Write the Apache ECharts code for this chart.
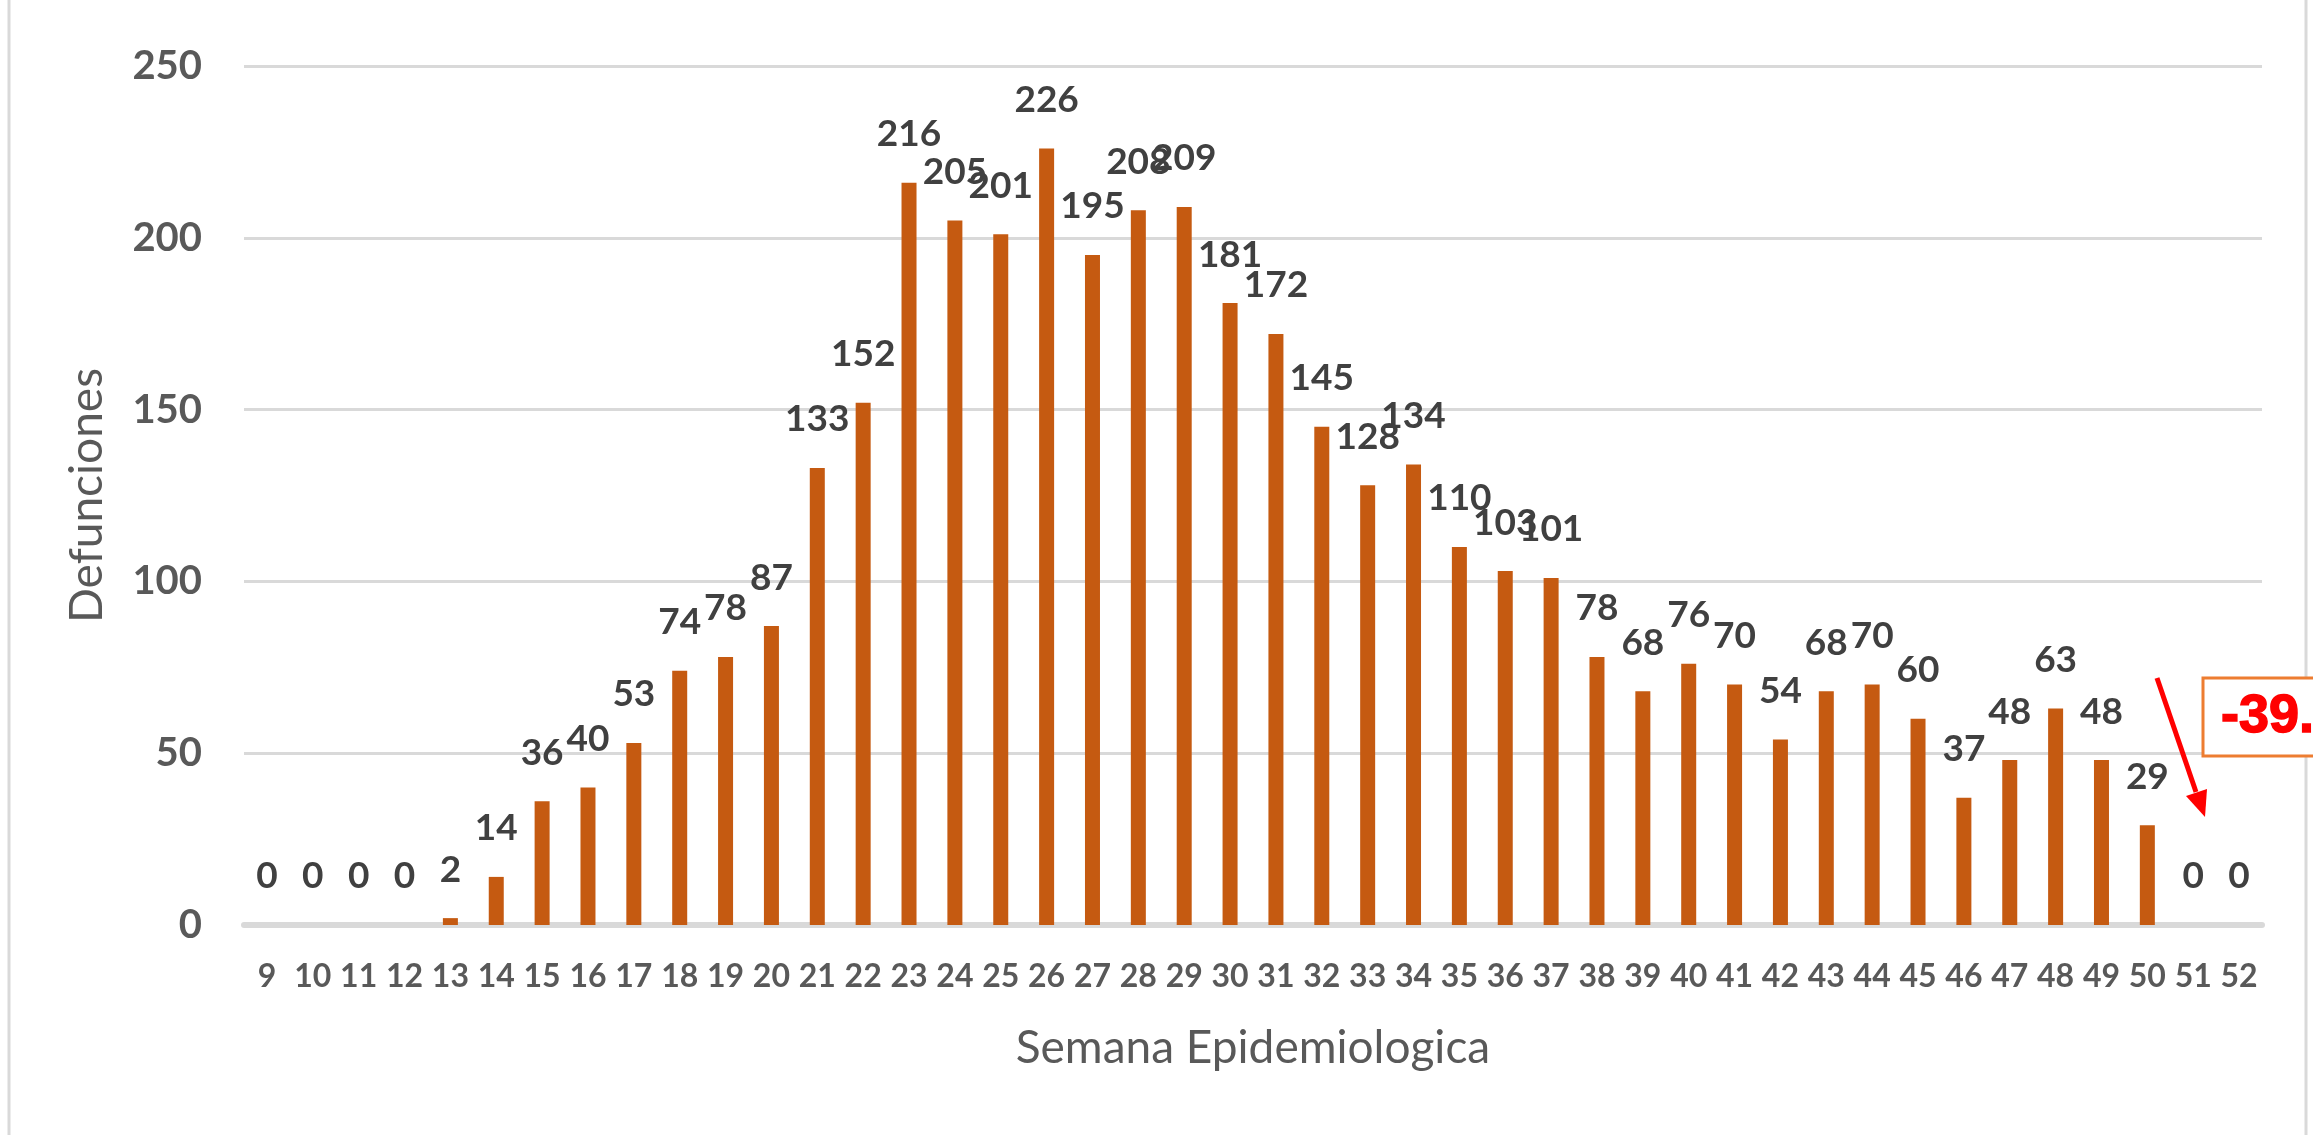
<!DOCTYPE html>
<html>
<head>
<meta charset="utf-8">
<script src="https://cdn.jsdelivr.net/npm/echarts@6/dist/echarts.min.js"></script>
<style>
  html, body { margin: 0; padding: 0; background: #fff; }
  #main { width: 2313px; height: 1135px; }
</style>
</head>
<body>
<div id="main"></div>
<script>
var semanas = ['9','10','11','12','13','14','15','16','17','18','19','20','21','22','23','24','25','26','27','28','29','30',
  '31','32','33','34','35','36','37','38','39','40','41','42','43','44','45','46','47','48','49','50','51','52'];
var defunciones = [0,0,0,0,2,14,36,40,53,74,78,87,133,152,216,205,201,226,195,208,209,181,
  172,145,128,134,110,103,101,78,68,76,70,54,68,70,60,37,48,63,48,29,0,0];
var yTicks = [0, 50, 100, 150, 200, 250];
var cajaTexto = '-39.';

var chart = echarts.init(document.getElementById('main'), null, { renderer: 'canvas' });

var option = {
  backgroundColor: '#fff',
  animation: false,
  grid: { left: 244, right: 51, top: 66, bottom: 210 },
  xAxis: {
    type: 'category',
    data: semanas,
    name: 'Semana Epidemiologica',
    nameLocation: 'middle',
    nameGap: 100,
    nameTextStyle: { fontFamily: 'Lato', fontSize: 46, color: '#595959' },
    axisLine: { lineStyle: { color: '#d9d9d9', width: 6 } },
    axisTick: { show: false },
    axisLabel: {
      interval: 0, margin: 36,
      fontFamily: 'Lato', fontWeight: 'bold', fontSize: 32, color: '#595959'
    }
  },
  yAxis: {
    type: 'value',
    min: yTicks[0],
    max: yTicks[yTicks.length - 1],
    interval: 50,
    name: 'Defunciones',
    nameLocation: 'middle',
    nameGap: 134,
    nameTextStyle: { fontFamily: 'Lato', fontSize: 46, color: '#595959' },
    axisLine: { show: false },
    axisTick: { show: false },
    splitLine: { lineStyle: { color: '#d9d9d9', width: 3 } },
    axisLabel: {
      margin: 42,
      fontFamily: 'Lato', fontWeight: 'bold', fontSize: 40, color: '#595959'
    }
  },
  series: [{
    type: 'bar',
    data: defunciones,
    barWidth: 15,
    itemStyle: { color: '#c55a11' },
    label: {
      show: true,
      position: 'top',
      distance: 30,
      fontFamily: 'Lato', fontWeight: 'bold', fontSize: 37, color: '#404040'
    }
  }],
  graphic: [
    // borde del grafico
    { type: 'rect', z: 0, shape: { x: 9, y: -20, width: 2297, height: 1180 },
      style: { fill: null, stroke: '#d9d9d9', lineWidth: 3 } },
    // flecha roja
    { type: 'line', z: 10, shape: { x1: 2157, y1: 678, x2: 2196, y2: 792 },
      style: { stroke: '#ff0000', lineWidth: 5 } },
    { type: 'polygon', z: 10, shape: { points: [[2205, 817], [2207, 789], [2186, 796]] },
      style: { fill: '#ff0000' } },
    // caja con porcentaje
    { type: 'rect', z: 10, shape: { x: 2203, y: 678, width: 160, height: 78 },
      style: { fill: '#fff', stroke: '#ed7d31', lineWidth: 3 } },
    { type: 'text', z: 11, x: 2221, y: 717,
      style: { text: cajaTexto, fill: '#ff0000', font: 'bold 54px "Liberation Sans", Arial, sans-serif',
        verticalAlign: 'middle', align: 'left', stroke: '#ff0000', lineWidth: 1.5 } }
  ]
};

chart.setOption(option);
</script>
</body>
</html>
